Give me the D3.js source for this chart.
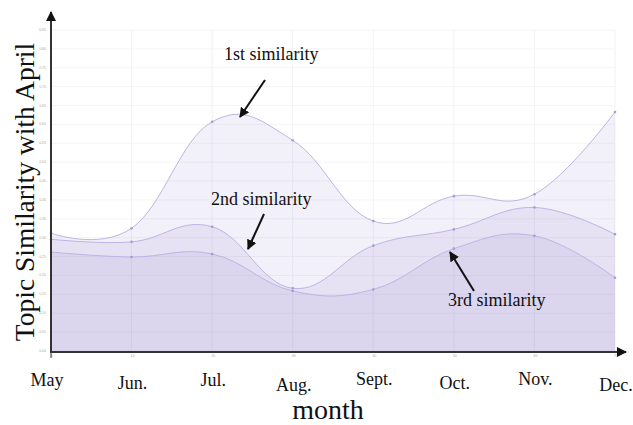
<!DOCTYPE html>
<html><head><meta charset="utf-8">
<script src="https://cdn.jsdelivr.net/npm/d3@7/dist/d3.min.js"></script>
<style>body{margin:0;background:#fff}svg{display:block}</style>
</head><body>
<svg id="c" width="633" height="425"></svg>
<script>
const months = ["May","Jun.","Jul.","Aug.","Sept.","Oct.","Nov.","Dec."];
const sim1 = [0.312,0.325,0.607,0.558,0.344,0.410,0.415,0.633];
const sim2 = [0.296,0.289,0.329,0.166,0.279,0.322,0.380,0.309];
const sim3 = [0.262,0.249,0.257,0.159,0.163,0.271,0.305,0.194];
const yTicks = d3.range(0, 0.851, 0.05);
const labelDy = [0, 3, 0, 5, -1, 3, -1, 5];

const svg = d3.select("#c");
const x = d3.scalePoint().domain(months).range([51, 615]);
const y = d3.scaleLinear().domain([0, 0.85]).range([351, 30]);

const defs = svg.append("defs");
defs.append("marker").attr("id","ah").attr("viewBox","0 0 10 10").attr("refX",9).attr("refY",5)
  .attr("markerWidth",5).attr("markerHeight",5).attr("orient","auto")
  .append("path").attr("d","M0,0L10,5L0,10z").attr("fill","#111");

// grid
svg.append("g").selectAll("line").data(yTicks).join("line")
  .attr("x1",51).attr("x2",615).attr("y1",d=>y(d)).attr("y2",d=>y(d))
  .attr("stroke","#f4f4f6").attr("stroke-width",1);
svg.append("g").selectAll("line").data(months).join("line")
  .attr("x1",d=>x(d)).attr("x2",d=>x(d)).attr("y1",30).attr("y2",351)
  .attr("stroke","#f2f2f5").attr("stroke-width",1);

const curve = d3.curveCardinal.tension(-0.2);
const series = [sim1, sim2, sim3];
series.forEach(s => {
  const pts = months.map((m,i)=>[m, s[i]]);
  svg.append("path").datum(pts)
    .attr("d", d3.area().x(d=>x(d[0])).y0(y(0)).y1(d=>y(d[1])).curve(curve))
    .attr("fill","#7b68c8").attr("fill-opacity",0.1);
});
series.forEach(s => {
  const pts = months.map((m,i)=>[m, s[i]]);
  svg.append("path").datum(pts)
    .attr("d", d3.line().x(d=>x(d[0])).y(d=>y(d[1])).curve(curve))
    .attr("fill","none").attr("stroke","#bdb5e3").attr("stroke-width",1);
  svg.append("g").selectAll("circle").data(pts).join("circle")
    .attr("cx",d=>x(d[0])).attr("cy",d=>y(d[1])).attr("r",1.3).attr("fill","#a59cd6");
});

// tiny tick labels
svg.append("g").selectAll("text").data(yTicks).join("text")
  .attr("x",46).attr("y",d=>y(d)+1).attr("text-anchor","end")
  .attr("font-size",3.5).attr("fill","#aaa").attr("font-family","Liberation Sans")
  .text(d=>d.toFixed(2));
svg.append("g").selectAll("text").data(months).join("text")
  .attr("x",d=>x(d)+1).attr("y",357).attr("text-anchor","middle")
  .attr("font-size",3.5).attr("fill","#aaa").attr("font-family","Liberation Sans")
  .text((d,i)=>String(i*10));

// axes
svg.append("line").attr("x1",51).attr("y1",353).attr("x2",51).attr("y2",12)
  .attr("stroke","#333").attr("stroke-width",2).attr("marker-end","url(#ah)");
svg.append("line").attr("x1",50).attr("y1",352).attr("x2",626).attr("y2",352)
  .attr("stroke","#333").attr("stroke-width",2).attr("marker-end","url(#ah)");
svg.append("line").attr("x1",51).attr("y1",352).attr("x2",51).attr("y2",358)
  .attr("stroke","#333").attr("stroke-width",1);

const serif = "Liberation Serif";
// month labels
svg.append("g").selectAll("text").data(months).join("text")
  .attr("x",(d,i)=> i===0 ? x(d)-4 : x(d)+1).attr("y",(d,i)=>386+labelDy[i])
  .attr("text-anchor","middle").attr("font-family",serif).attr("font-size",18).attr("fill","#111")
  .text(d=>d);
svg.append("text").attr("x",328).attr("y",419).attr("text-anchor","middle")
  .attr("font-family",serif).attr("font-size",28).attr("fill","#111").text("month");
svg.append("text").attr("transform","translate(34,192) rotate(-90)").attr("text-anchor","middle")
  .attr("font-family",serif).attr("font-size",27.5).attr("fill","#111").text("Topic Similarity with April");

// annotations
const notes = [
  {t:"1st similarity", tx:224, ty:60, x1:265, y1:80, x2:240, y2:117},
  {t:"2nd similarity", tx:211, ty:205, x1:264, y1:214, x2:248, y2:249},
  {t:"3rd similarity", tx:448, ty:306, x1:474, y1:291, x2:450, y2:252}
];
notes.forEach(n=>{
  svg.append("text").attr("x",n.tx).attr("y",n.ty).attr("font-family",serif)
    .attr("font-size",18).attr("fill","#111").text(n.t);
  svg.append("line").attr("x1",n.x1).attr("y1",n.y1).attr("x2",n.x2).attr("y2",n.y2)
    .attr("stroke","#111").attr("stroke-width",2).attr("marker-end","url(#ah)");
});
</script>
</body></html>
